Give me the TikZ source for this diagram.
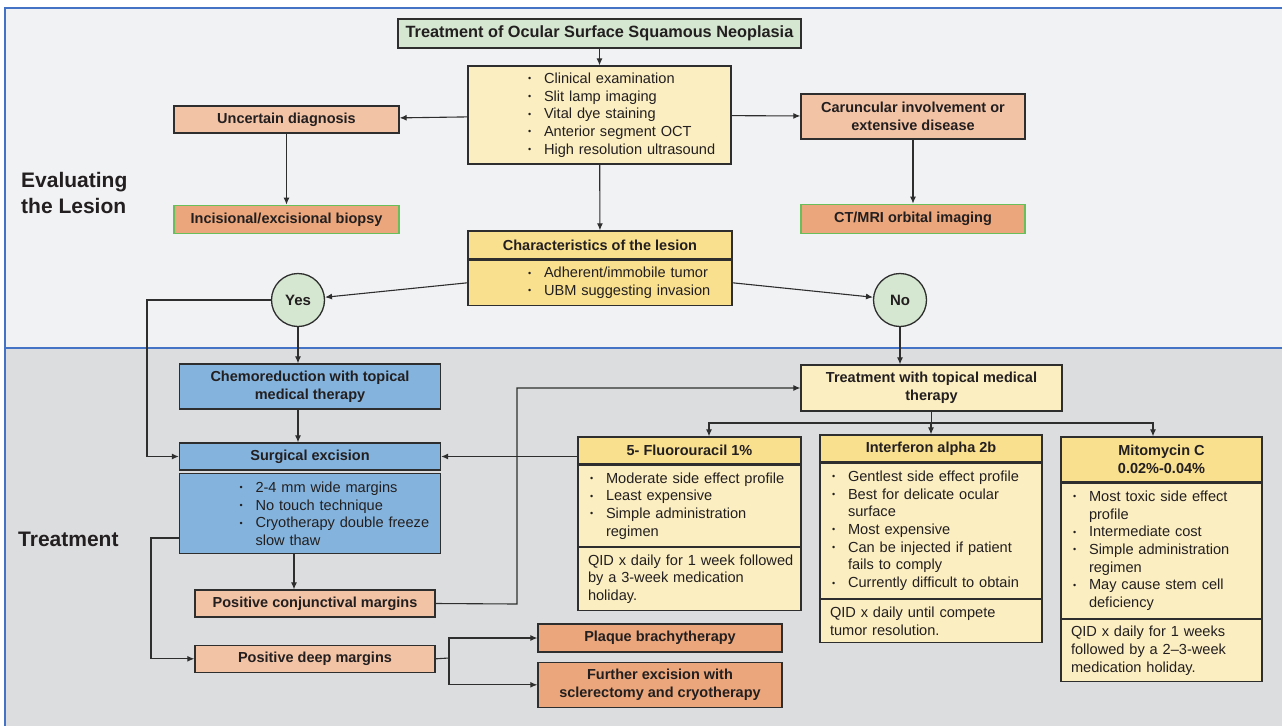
\documentclass[tikz,border=0pt]{standalone}
\usepackage{fontspec}
\setmainfont{Liberation Sans}
\usepackage{xcolor}
\usetikzlibrary{arrows.meta,positioning,calc}

\definecolor{topbg}{HTML}{F1F2F4}
\definecolor{botbg}{HTML}{DCDDDF}
\definecolor{panelblue}{HTML}{4472C4}
\definecolor{linegray}{HTML}{2E2E2E}
\definecolor{txt}{HTML}{231F20}
\definecolor{mint}{HTML}{D5E6D1}
\definecolor{cream}{HTML}{FBEEC1}
\definecolor{gold}{HTML}{F9E08F}
\definecolor{salmonfill}{HTML}{F2C3A5}
\definecolor{orangefill}{HTML}{EBA67B}
\definecolor{okgreen}{HTML}{6ABF5A}
\definecolor{sky}{HTML}{84B4DD}

\newcommand{\headfont}{\bfseries\fontsize{14.5}{17.6}\selectfont}
\newcommand{\bodyfont}{\fontsize{14.6}{17.7}\selectfont}
\newcommand{\bl}{\makebox[16pt][l]{\raisebox{1.6pt}{\fontsize{9}{9}\selectfont\textbullet}}}
\newcommand{\nb}{\hspace*{16pt}}

\begin{document}
\begin{tikzpicture}[
  x=1pt, y=-1pt,
  box/.style={draw=linegray, line width=1.3pt, align=center, inner sep=0pt, text=txt, font=\headfont},
  salmon/.style={box, fill=salmonfill},
  result/.style={box, fill=orangefill, draw=okgreen},
  deep/.style={box, fill=orangefill},
  listbox/.style={box, align=left, font=\bodyfont},
  answer/.style={circle, draw=linegray, line width=1.3pt, fill=mint, minimum size=53pt, inner sep=0pt, text=txt, font=\bfseries\fontsize{15}{17}\selectfont},
  side/.style={align=left, inner sep=0pt, text=txt, font=\bfseries\fontsize{21}{26}\selectfont},
  arrow/.style={-{Latex[length=7pt,width=6pt]}, line width=1.1pt, draw=linegray},
  plain/.style={line width=1.1pt, draw=linegray}
]
\useasboundingbox (0,0) rectangle (1282,726);

% panels
\fill[topbg] (5,8) rectangle (1282,347);
\fill[botbg] (5,348) rectangle (1282,726);
\draw[panelblue, line width=1.3pt] (1282,8) -- (5,8) -- (5,726);
\draw[panelblue, line width=1.1pt] (5,348) -- (1282,348);

\node[side, anchor=west] (evallbl) at (21,193) {Evaluating\\the Lesion};
\node[side, anchor=west] (treatlbl) at (18,539) {Treatment};

% evaluating the lesion
\node[box, fill=mint, minimum width=403pt, minimum height=29pt, font=\bfseries\fontsize{16.3}{19}\selectfont] (title) at (599.5,33.5) {Treatment of Ocular Surface Squamous Neoplasia};
\node[listbox, fill=cream, text width=263pt, minimum height=98pt] (exam) at (599.5,115)
  {\leftskip=60pt\bl Clinical examination\\\bl Slit lamp imaging\\\bl Vital dye staining\\\bl Anterior segment OCT\\\bl High resolution ultrasound\par};

\node[salmon, minimum width=225pt, minimum height=27pt] (uncertain) at (286.5,119.5) {Uncertain diagnosis};
\node[result, minimum width=225pt, minimum height=28pt, below=71pt of uncertain] (biopsy) {Incisional/excisional biopsy};
\node[salmon, minimum width=224pt, minimum height=45pt] (caruncle) at (913,116.5) {Caruncular involvement or\\extensive disease};
\node[result, minimum width=224pt, minimum height=29pt, below=64pt of caruncle] (ctmri) {CT/MRI orbital imaging};

\node[box, fill=gold, minimum width=264pt, minimum height=28pt] (chars) at (600,245) {Characteristics of the lesion};
\node[listbox, fill=gold, text width=264pt, minimum height=45pt, below=0pt of chars] (charsbody)
  {\leftskip=60pt\bl Adherent/immobile tumor\\\bl UBM suggesting invasion\par};

\node[answer] (yes) at (298,300) {Yes};
\node[answer] (no) at (900,300) {No};

% treatment
\node[box, fill=sky, minimum width=261pt, minimum height=45pt] (chemo) at (310,386.5) {Chemoreduction with topical\\medical therapy};
\node[box, fill=sky, minimum width=261pt, minimum height=27pt] (surg) at (310,456.5) {Surgical excision};
\node[listbox, fill=sky, text width=261pt, minimum height=80pt, below=2.5pt of surg] (surgbody)
  {\leftskip=60pt\bl 2-4 mm wide margins\\\bl No touch technique\\\bl Cryotherapy double freeze\\\nb slow thaw\par};

\node[salmon, minimum width=240pt, minimum height=27pt] (posconj) at (315,603.5) {Positive conjunctival margins};
\node[salmon, minimum width=240pt, minimum height=27pt, below=27pt of posconj] (posdeep) {Positive deep margins};
\node[deep, minimum width=244pt, minimum height=28pt] (plaque) at (660,638) {Plaque brachytherapy};
\node[deep, minimum width=244pt, minimum height=45pt, below=9pt of plaque] (further) {Further excision with\\sclerectomy and cryotherapy};

\node[box, fill=cream, minimum width=261pt, minimum height=46pt] (topical) at (931.5,388) {Treatment with topical medical\\therapy};

% 5-FU
\node[box, fill=gold, minimum width=223pt, minimum height=27pt] (fuhead) at (689.5,450.5) {5- Fluorouracil 1\%};
\node[listbox, fill=cream, text width=223pt, minimum height=81pt, below=0pt of fuhead] (fubody)
  {\leftskip=12pt\bl Moderate side effect profile\\\bl Least expensive\\\bl Simple administration\\\nb regimen\par};
\node[listbox, fill=cream, text width=223pt, minimum height=63pt, below=0pt of fubody] (fufoot)
  {\leftskip=10pt QID x daily for 1 week followed\\by a 3-week medication\\holiday.\par};

% interferon
\node[box, fill=gold, minimum width=222pt, minimum height=27pt] (ifnhead) at (931,448.5) {Interferon alpha 2b};
\node[listbox, fill=cream, text width=222pt, minimum height=135pt, below=0pt of ifnhead] (ifnbody)
  {\leftskip=12pt\bl Gentlest side effect profile\\\bl Best for delicate ocular\\\nb surface\\\bl Most expensive\\\bl Can be injected if patient\\\nb fails to comply\\\bl Currently difficult to obtain\par};
\node[listbox, fill=cream, text width=222pt, minimum height=43pt, below=0pt of ifnbody] (ifnfoot)
  {\leftskip=10pt QID x daily until compete\\tumor resolution.\par};

% mitomycin
\node[box, fill=gold, minimum width=201pt, minimum height=45pt] (mmchead) at (1161.5,459.5) {Mitomycin C\\0.02\%-0.04\%};
\node[listbox, fill=cream, text width=201pt, minimum height=135pt, below=0pt of mmchead] (mmcbody)
  {\leftskip=12pt\bl Most toxic side effect\\\nb profile\\\bl Intermediate cost\\\bl Simple administration\\\nb regimen\\\bl May cause stem cell\\\nb deficiency\par};
\node[listbox, fill=cream, text width=201pt, minimum height=62pt, below=0pt of mmcbody] (mmcfoot)
  {\leftskip=10pt QID x daily for 1 weeks\\followed by a 2--3-week\\medication holiday.\par};

% connectors
\coordinate (yesbend) at (147,300);
\coordinate (deepbend) at (151,538);
\coordinate (conjbend) at (517,604);
\coordinate (deepsplit) at (449,658);
\coordinate (drugsplit) at (931.5,423);

\draw[arrow] (title) -- (exam);
\draw[arrow] (exam) -- (uncertain);
\draw[arrow] (exam) -- (caruncle);
\draw[arrow] (uncertain) -- (biopsy);
\draw[arrow] (caruncle) -- (ctmri);
\draw[arrow] (exam) -- (chars);
\draw[arrow] (charsbody.west) -- (yes);
\draw[arrow] (charsbody.east) -- (no);
\draw[arrow] (yes) -- (yes |- chemo.north);
\draw[arrow] (yes.west) -- (yesbend) |- (surg.west);
\draw[arrow] (yes |- chemo.south) -- (yes |- surg.north);
\draw[arrow] (no) -- (no |- topical.north);
\draw[plain] (topical.south) -- (drugsplit);
\draw[arrow] (drugsplit) -| ([xshift=19.5pt]fuhead.north);
\draw[arrow] (drugsplit) -| (ifnhead.north);
\draw[arrow] (drugsplit) -| ([xshift=-8.5pt]mmchead.north);
\draw[arrow] (surg -| fuhead.west) -- (surg.east);
\draw[arrow] ([xshift=-16pt]surgbody.south) -- ([xshift=-16pt]surgbody.south |- posconj.north);
\draw[arrow] (surgbody.west |- deepbend) -- (deepbend) |- (posdeep.west);
\draw[arrow] (posconj.east) -- (conjbend) |- (topical.west);
\draw[plain] (posdeep.east) -- (deepsplit);
\draw[arrow] (deepsplit) |- (plaque.west);
\draw[arrow] (deepsplit) |- (further.west);
\end{tikzpicture}
\end{document}
